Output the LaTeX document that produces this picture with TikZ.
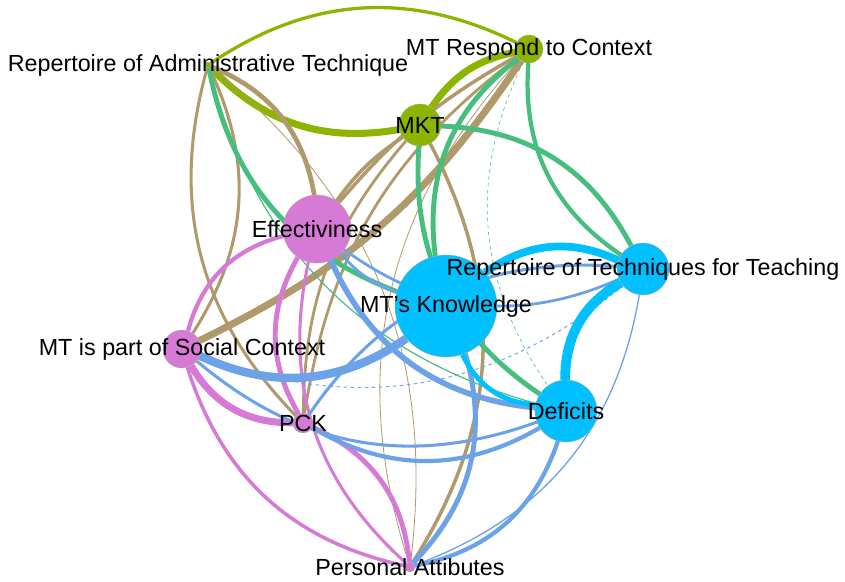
\documentclass[tikz,border=0pt]{standalone}
\usepackage{fontspec}
\setmainfont{Liberation Sans}
\usepackage{tikz}
\usetikzlibrary{backgrounds}
\definecolor{Lime}{HTML}{8CB400}
\definecolor{Tan}{HTML}{B09A6B}
\definecolor{Leaf}{HTML}{45BE7E}
\definecolor{Orchid}{HTML}{D67AD6}
\definecolor{Sky}{HTML}{6CA2E8}
\definecolor{Cyan}{HTML}{00C0FF}
\tikzset{
  hub/.style={circle,draw=black!35,line width=0.3pt,inner sep=0pt},
  greenhub/.style={hub,fill=Lime},
  pinkhub/.style={hub,fill=Orchid},
  cyanhub/.style={hub,fill=Cyan},
  lbl/.style={font=\fontsize{19.9}{22}\selectfont,inner sep=0pt,text=black},
  limeedge/.style={draw=Lime},
  tanedge/.style={draw=Tan},
  leafedge/.style={draw=Leaf},
  pinkedge/.style={draw=Orchid},
  skyedge/.style={draw=Sky},
  cyanedge/.style={draw=Cyan}
}

\begin{document}
\begin{tikzpicture}[x=0.03cm,y=0.03cm]
  \useasboundingbox (0,0) rectangle (845,-581);
  % nodes
  \node[greenhub,minimum size=0.18cm] (rat) at (208,-65) {};
  \node[greenhub,minimum size=0.84cm] (mtrc) at (529,-49) {};
  \node[greenhub,minimum size=1.26cm] (mkt) at (420,-125) {};
  \node[pinkhub,minimum size=2.04cm] (eff) at (317,-229) {};
  \node[cyanhub,minimum size=3.06cm] (mtk) at (446,-306) {};
  \node[cyanhub,minimum size=1.56cm] (rtt) at (643,-269) {};
  \node[pinkhub,minimum size=1.14cm] (soc) at (182,-349) {};
  \node[pinkhub,minimum size=0.6cm] (pck) at (303,-423) {};
  \node[cyanhub,minimum size=1.86cm] (def) at (566,-411) {};
  \node[pinkhub,minimum size=0.3cm] (pa) at (410,-567) {};

  \begin{scope}[on background layer]
    % green to green
    \draw[limeedge,line width=2.8pt] (rat) to[bend left=30] (mtrc);
    \draw[limeedge,line width=6pt] (rat) to[bend right=28] (mkt);
    \draw[limeedge,line width=6pt] (mkt) to[bend left=22] (mtrc);
    % green to pink
    \draw[tanedge,line width=4pt] (rat) to[bend left=29] (eff);
    \draw[tanedge,line width=2.6pt] (rat) to[bend right=30] (pck);
    \draw[tanedge,line width=2.6pt] (rat) to[bend left=29] (soc);
    \draw[tanedge,line width=0.7pt] (rat) to[bend left=29] (pa);
    \draw[tanedge,line width=6pt] (mtrc) to[bend left=15] (soc);
    \draw[tanedge,line width=3pt] (mtrc) to[bend right=10] (eff);
    \draw[tanedge,line width=3pt] (mkt) to[bend right=10] (eff);
    \draw[tanedge,line width=2.4pt] (mtrc) to[bend right=22] (pck);
    \draw[tanedge,line width=2.4pt] (mkt) to[bend right=20] (pck);
    \draw[tanedge,line width=3pt] (mkt) to[bend left=30] (pa);
    \draw[tanedge,line width=0.7pt] (mtrc) to[bend right=30] (pa);
    % green to cyan
    \draw[leafedge,line width=4.2pt] (rat) to[bend right=29] (mtk);
    \draw[leafedge,line width=1pt] (rat) to[bend right=30] (def);
    \draw[leafedge,line width=4.2pt] (mtrc) to[bend right=30] (mtk);
    \draw[leafedge,line width=3.6pt] (mtrc) to[bend right=30] (rtt);
    \draw[leafedge,line width=0.5pt,dashed] (mtrc) to[bend right=30] (def);
    \draw[leafedge,line width=4.2pt] (mkt) to[bend left=30] (rtt);
    \draw[leafedge,line width=4.2pt] (mkt) to[bend right=30] (def);
    % pink to pink
    \draw[pinkedge,line width=3.6pt] (eff) to[bend right=30] (soc);
    \draw[pinkedge,line width=4.2pt] (eff) to[bend right=30] (pck);
    \draw[pinkedge,line width=2.6pt] (eff) to[bend right=30] (pa);
    \draw[pinkedge,line width=6pt] (soc) to[bend right=30] (pck);
    \draw[pinkedge,line width=3pt] (soc) to[bend right=30] (pa);
    \draw[pinkedge,line width=4.2pt] (pck) to[bend left=30] (pa);
    % pink to cyan
    \draw[skyedge,line width=4.8pt] (eff) to[bend right=30] (def);
    \draw[skyedge,line width=2.4pt] (eff) to[bend right=30] (rtt);
    \draw[skyedge,line width=2.4pt] (eff) to[bend right=15] (mtk);
    \draw[skyedge,line width=7.2pt] (soc) to[bend right=30] (mtk);
    \draw[skyedge,line width=0.8pt,dashed] (soc) to[bend right=30] (rtt);
    \draw[skyedge,line width=2.6pt] (soc) to[bend right=30] (def);
    \draw[skyedge,line width=3.6pt] (pck) to[bend right=30] (def);
    \draw[skyedge,line width=2.6pt] (pck) to[bend left=30] (rtt);
    \draw[skyedge,line width=4.2pt] (mtk) to[bend left=30] (pa);
    \draw[skyedge,line width=3.6pt] (def) to[bend left=30] (pa);
    \draw[skyedge,line width=1.1pt] (rtt) to[bend left=30] (pa);
    % cyan to cyan
    \draw[cyanedge,line width=6.6pt] (mtk) to[bend left=30] (rtt);
    \draw[cyanedge,line width=8.4pt] (rtt) to[bend right=30] (def);
    \draw[cyanedge,line width=4.2pt] (mtk) to[bend right=30] (def);
  \end{scope}

  % labels
  \node[lbl] (ratlab) at (rat) {Repertoire of Administrative Technique};
  \node[lbl] (mtrclab) at (mtrc) {MT Respond to Context};
  \node[lbl] (mktlab) at (mkt) {MKT};
  \node[lbl] (efflab) at (eff) {Effectiviness};
  \node[lbl] (mtklab) at (mtk) {MT's Knowledge};
  \node[lbl] (rttlab) at (rtt) {Repertoire of Techniques for Teaching};
  \node[lbl] (soclab) at (soc) {MT is part of Social Context};
  \node[lbl] (pcklab) at (pck) {PCK};
  \node[lbl] (deflab) at (def) {Deficits};
  \node[lbl] (palab) at (pa) {Personal Attibutes};
\end{tikzpicture}
\end{document}
